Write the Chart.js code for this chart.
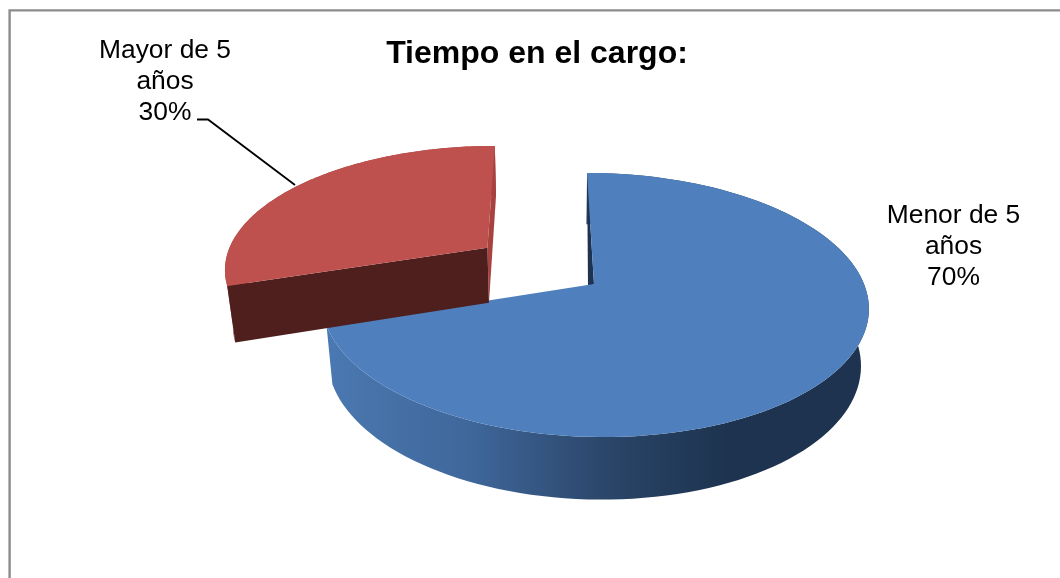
<!DOCTYPE html>
<html>
<head>
<meta charset="utf-8">
<style>
  html, body { margin: 0; padding: 0; background: #fff; overflow: hidden; }
  canvas { display: block; }
</style>
<script src="https://cdn.jsdelivr.net/npm/chart.js@4"></script>
</head>
<body>
<canvas id="chart" width="1060" height="578"></canvas>
<script>
const titleText = 'Tiempo en el cargo:'
const categories = [['Menor de 5', 'años'], ['Mayor de 5', 'años']]
const seriesValues = [70, 30]
const topColors = ['#4f80bd', '#be504d']
const fontName = '"Liberation Sans", Arial, sans-serif'

// perspective of the tilted pie, u/v are unit circle coords, z = 0 top face, 1 bottom face
const view = { x0: 594, y0: 284, a: 270, b: 128.7, c: 8, k: 0.159, m: 0.025, drop: 58, shift: -1 }
const explode = [0, 0.5]

function project(u, v, z) {
  const w = 1 - view.k * v + view.m * z
  return [
    view.x0 + (view.a * u + view.c * v + view.shift * z) / w,
    view.y0 + (view.b * v + view.drop * z) / w
  ]
}

function slicePoints(arc, index) {
  const mid = (arc.startAngle + arc.endAngle) / 2
  const ox = Math.cos(mid) * explode[index]
  const oy = Math.sin(mid) * explode[index]
  const rim = []
  const steps = 120
  for (let i = 0; i <= steps; i++) {
    const t = arc.startAngle + (arc.endAngle - arc.startAngle) * i / steps
    rim.push([ox + Math.cos(t), oy + Math.sin(t)])
  }
  return { rim, apex: [ox, oy] }
}

function fillPoly(ctx, pts, color) {
  ctx.beginPath()
  pts.forEach((p, i) => i ? ctx.lineTo(p[0], p[1]) : ctx.moveTo(p[0], p[1]))
  ctx.closePath()
  ctx.fillStyle = color
  ctx.fill()
}

function wallFace(a, b) {
  return [project(a[0], a[1], 0), project(b[0], b[1], 0), project(b[0], b[1], 1), project(a[0], a[1], 1)]
}

const pie3d = {
  id: 'pie3d',
  beforeDraw(chart) {
    const ctx = chart.ctx
    ctx.save()
    ctx.fillStyle = '#fff'
    ctx.fillRect(0, 0, chart.width, chart.height)
    ctx.strokeStyle = '#8c8c8c'
    ctx.lineWidth = 2.4
    ctx.beginPath()
    ctx.moveTo(9.6, chart.height)
    ctx.lineTo(9.6, 10.4)
    ctx.lineTo(chart.width, 10.4)
    ctx.stroke()
    ctx.restore()
  },
  beforeDatasetDraw(chart) {
    const ctx = chart.ctx
    const arcs = chart.getDatasetMeta(0).data
    const blue = slicePoints(arcs[0], 0)
    const red = slicePoints(arcs[1], 1)
    ctx.save()

    // blue slice: wall round the rim, then the thin cut face, then the top
    const grad = ctx.createLinearGradient(330, 0, 730, 0)
    grad.addColorStop(0, '#4a78b0')
    grad.addColorStop(0.35, '#3f679b')
    grad.addColorStop(0.7, '#2a4568')
    grad.addColorStop(1, '#1d334f')
    const blueTop = blue.rim.map(p => project(p[0], p[1], 0))
    const blueBottom = blue.rim.map(p => project(p[0], p[1], 1))
    fillPoly(ctx, blueTop.concat(blueBottom.slice().reverse()), grad)
    // cut face leans a little left of the apex
    const bluePeak = project(blue.rim[0][0], blue.rim[0][1], 0)
    const blueApex = project(blue.apex[0], blue.apex[1], 0)
    fillPoly(ctx, [bluePeak, blueApex, [blueApex[0] - 6, blueApex[1] + 3]], '#1d334f')
    fillPoly(ctx, blueTop.concat([blueApex]), topColors[0])

    // red slice, pulled out towards the back left
    const redTop = red.rim.map(p => project(p[0], p[1], 0))
    const redBottom = red.rim.map(p => project(p[0], p[1], 1))
    fillPoly(ctx, redTop.concat(redBottom.slice().reverse()), '#a8423f')
    fillPoly(ctx, wallFace(red.rim[red.rim.length - 1], red.apex), '#a8423f')
    fillPoly(ctx, wallFace(red.rim[0], red.apex), '#4e1f1d')
    fillPoly(ctx, redTop.concat([project(red.apex[0], red.apex[1], 0)]), topColors[1])

    ctx.restore()
    return false
  },
  afterDraw(chart) {
    const ctx = chart.ctx
    const anchors = [[953.5, 216], [165, 51]]
    ctx.save()
    ctx.font = '26.4px ' + fontName
    ctx.fillStyle = '#000'
    ctx.textAlign = 'center'
    ctx.textBaseline = 'middle'
    categories.forEach((lines, i) => {
      const all = lines.concat([seriesValues[i] + '%'])
      all.forEach((line, j) => ctx.fillText(line, anchors[i][0], anchors[i][1] + j * 31))
    })
    // leader line of the red slice
    ctx.strokeStyle = '#000'
    ctx.lineWidth = 1.8
    ctx.beginPath()
    ctx.moveTo(197, 119.5)
    ctx.lineTo(208, 119.5)
    ctx.lineTo(295, 185)
    ctx.stroke()
    ctx.restore()
  }
}

new Chart(document.getElementById('chart'), {
  type: 'pie',
  data: {
    labels: categories,
    datasets: [{ data: seriesValues, backgroundColor: topColors, borderWidth: 0 }]
  },
  options: {
    responsive: false,
    animation: false,
    layout: { padding: { top: 35, left: 14 } },
    plugins: {
      legend: { display: false },
      tooltip: { enabled: false },
      title: {
        display: true,
        text: titleText,
        color: '#000',
        padding: 0,
        font: { family: fontName, size: 32, weight: 'bold' }
      }
    }
  },
  plugins: [pie3d]
})
</script>
</body>
</html>
